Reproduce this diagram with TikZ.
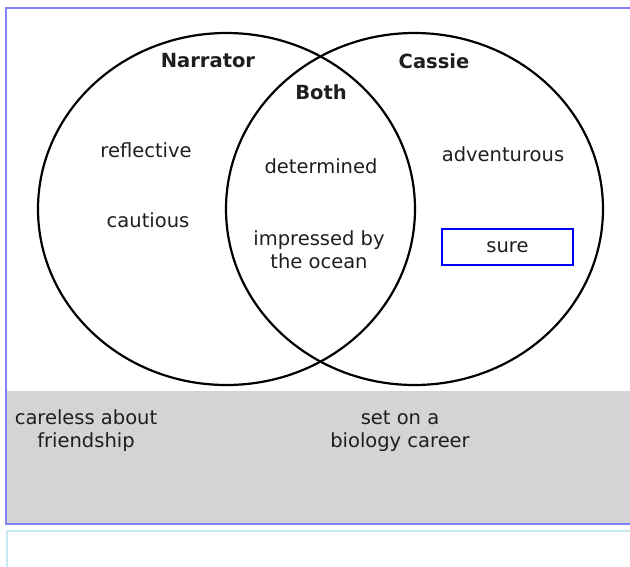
\documentclass[tikz,border=0pt]{standalone}
\usepackage{fontspec}
\setmainfont{DejaVu Sans}
\usepackage{xcolor}
\usepackage{tikz}
\definecolor{frameblue}{RGB}{130,130,250}
\definecolor{paneblue}{RGB}{200,232,240}
\definecolor{graypane}{RGB}{212,212,212}
\definecolor{inktext}{RGB}{30,30,30}
\tikzstyle{set} = [ellipse, draw, line width=2.2pt,
    minimum width=377pt, minimum height=352pt, inner sep=0pt]
\tikzstyle{head} = [text=inktext, font=\bfseries\fontsize{19.5}{23}\selectfont]
\tikzstyle{trait} = [text=inktext, align=center,
    font=\fontsize{19.5}{23}\selectfont]
\tikzstyle{answer} = [trait, draw=blue, line width=1.5pt,
    minimum width=131pt, minimum height=36pt]
\usetikzlibrary{positioning}
\usetikzlibrary{shapes.geometric}

\begin{document}
\begin{tikzpicture}[x=1pt,y=-1pt]
    \useasboundingbox (0,0) rectangle (630,566);

    % panes
    \fill[graypane] (6,391) rectangle (630,523);
    \draw[frameblue, line width=1.5pt] (630,8) -- (6,8) -- (6,524) -- (630,524);
    \draw[paneblue, line width=1.2pt] (630,531) -- (7,531) -- (7,570);

    \node[set] (narratorset) at (226.5,209) {};
    \node[set] (cassieset) at (414.5,209) {};

    \node[head] (narrator) at (208,61) {Narrator};
    \node[head] (cassie) at (434,61) {Cassie};
    \node[head] (both) at (321,92) {Both};

    \node[trait] (reflective) at (146,150) {reflective};
    \node[trait] (cautious) at (148,220) {cautious};

    \node[trait] (determined) at (321,166) {determined};
    \node[trait] (impressed) at (319,250) {impressed by\\the ocean};

    \node[trait] (adventurous) at (503,154) {adventurous};
    \node[answer] (sure) at (507.5,247) {sure};

    \node[trait] (careless) at (86,431) {careless about\\friendship};
    \node[trait] (biology) at (400,431) {set on a\\biology career};
  \end{tikzpicture}
\end{document}
